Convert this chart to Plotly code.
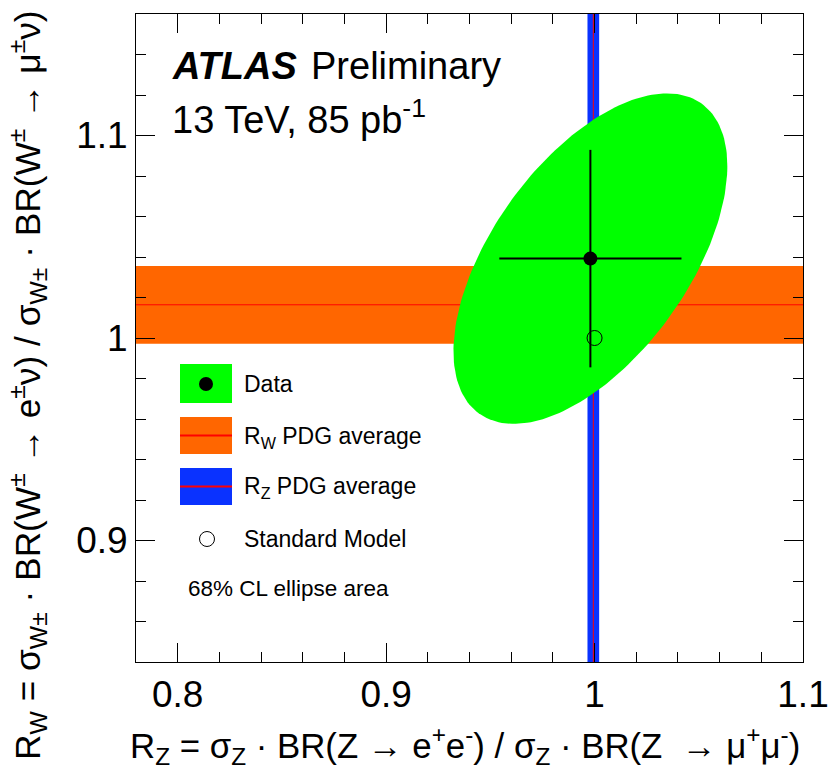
import numpy as np
import plotly.graph_objects as go

# ---------------- data ----------------
data_rz = [0.998]
data_rw = [1.0392]
data_rz_err = [0.0437]
data_rw_err = [0.0537]

sm_rz = [1.0]
sm_rw = [1.0]

rw_pdg_center = 1.0164
rw_pdg_err = 0.0192
rz_pdg_center = 0.9994
rz_pdg_err = 0.0028

# 68% CL ellipse: centre, half-extents along each axis, correlation
ell_center = [0.998, 1.0392]
ell_half_extent = [0.0657, 0.0816]
ell_rho = 0.56

x_range = [0.78, 1.10]
y_range = [0.84, 1.16]
x_tickvals = [0.8, 0.9, 1.0, 1.1]
x_ticktext = ["0.8", "0.9", "1", "1.1"]
y_tickvals = [0.9, 1.0, 1.1]
y_ticktext = ["0.9", "1", "1.1"]

# ---------------- layout constants ----------------
W, H = 832, 769
L, R, T, B = 136, 803, 14, 662
PW, PH = R - L, B - T
FONT = "Liberation Sans, Arial, Helvetica, sans-serif"

GREEN = "#00ff00"
ORANGE = "#ff6600"
BLUE = "#0a32ff"
RED = "#ff0000"


def px(xp):
    return (xp - L) / PW


def py(yp):
    return (B - yp) / PH


# ellipse outline from its parameters
t = np.linspace(0, 2 * np.pi, 200)
ex = ell_center[0] + ell_half_extent[0] * np.cos(t)
ey = ell_center[1] + ell_half_extent[1] * (ell_rho * np.cos(t) + np.sqrt(1 - ell_rho ** 2) * np.sin(t))

fig = go.Figure()

fig.add_trace(go.Scatter(x=ex, y=ey, mode="lines", fill="toself", fillcolor=GREEN,
                         line=dict(width=0, color=GREEN), hoverinfo="skip", showlegend=False))

fig.add_trace(go.Scatter(x=data_rz, y=data_rw, mode="markers",
                         marker=dict(size=14, color="black"),
                         error_x=dict(type="data", array=data_rz_err, color="black", thickness=2, width=0),
                         error_y=dict(type="data", array=data_rw_err, color="black", thickness=2, width=0),
                         showlegend=False))

fig.add_trace(go.Scatter(x=sm_rz, y=sm_rw, mode="markers",
                         marker=dict(size=15, color="rgba(0,0,0,0)", line=dict(color="black", width=1)),
                         showlegend=False))

shapes = []
# R_W band
shapes.append(dict(type="rect", xref="paper", yref="y", x0=0, x1=1,
                   y0=rw_pdg_center - rw_pdg_err, y1=rw_pdg_center + rw_pdg_err,
                   fillcolor=ORANGE, line=dict(width=0), layer="below"))
shapes.append(dict(type="line", xref="paper", yref="y", x0=0, x1=1,
                   y0=rw_pdg_center, y1=rw_pdg_center, line=dict(color=RED, width=1), layer="below"))
# R_Z band
shapes.append(dict(type="rect", xref="x", yref="paper", y0=0, y1=1,
                   x0=rz_pdg_center - rz_pdg_err, x1=rz_pdg_center + rz_pdg_err,
                   fillcolor=BLUE, line=dict(width=0), layer="below"))
shapes.append(dict(type="line", xref="x", yref="paper", y0=0, y1=1,
                   x0=rz_pdg_center, x1=rz_pdg_center, line=dict(color=RED, width=1), layer="below"))

# legend boxes (pixel placement)
bx0, bx1 = 180, 232
shapes.append(dict(type="rect", xref="paper", yref="paper", x0=px(bx0), x1=px(bx1), y0=py(403), y1=py(364),
                   fillcolor=GREEN, line=dict(width=0)))
shapes.append(dict(type="circle", xref="paper", yref="paper", x0=px(199), x1=px(213), y0=py(391), y1=py(377),
                   fillcolor="black", line=dict(width=0)))
shapes.append(dict(type="rect", xref="paper", yref="paper", x0=px(bx0), x1=px(bx1), y0=py(454), y1=py(417),
                   fillcolor=ORANGE, line=dict(width=0)))
shapes.append(dict(type="line", xref="paper", yref="paper", x0=px(bx0), x1=px(bx1), y0=py(435.5), y1=py(435.5),
                   line=dict(color=RED, width=2)))
shapes.append(dict(type="rect", xref="paper", yref="paper", x0=px(bx0), x1=px(bx1), y0=py(505), y1=py(468),
                   fillcolor=BLUE, line=dict(width=0)))
shapes.append(dict(type="line", xref="paper", yref="paper", x0=px(bx0), x1=px(bx1), y0=py(486.5), y1=py(486.5),
                   line=dict(color=RED, width=2)))
shapes.append(dict(type="circle", xref="paper", yref="paper", x0=px(199.5), x1=px(214.5), y0=py(546.5), y1=py(531.5),
                   fillcolor="rgba(0,0,0,0)", line=dict(color="black", width=1)))

annotations = []


def ann(text, x, y, size, xanchor="left", yanchor="middle", angle=0):
    annotations.append(dict(text=text, xref="paper", yref="paper", x=x, y=y, showarrow=False,
                            xanchor=xanchor, yanchor=yanchor, textangle=angle,
                            font=dict(family=FONT, size=size, color="black")))


ann("<b><i>ATLAS</i></b>", px(170), py(66), 38)
ann("Preliminary", px(309), py(66), 38)
ann("13 TeV, 85 pb<sup>-1</sup>", px(170), py(117), 38)

ann("Data", px(242), py(384), 23)
ann("R<sub>W</sub> PDG average", px(242), py(437), 23)
ann("R<sub>Z</sub> PDG average", px(242), py(488), 23)
ann("Standard Model", px(242), py(539), 23)
ann("68% CL ellipse area", px(186), py(588), 22.5)

ann("R<sub>Z</sub> = σ<sub>Z</sub> · BR(Z → e<sup>+</sup>e<sup>-</sup>) / σ<sub>Z</sub> · BR(Z  → μ<sup>+</sup>μ<sup>-</sup>)",
    px(802), py(745), 34.8, xanchor="right")
ann("R<sub>W</sub> = σ<sub>W±</sub> · BR(W<sup>±</sup> → e<sup>±</sup>ν) / σ<sub>W±</sub> · BR(W<sup>±</sup> → μ<sup>±</sup>ν)",
    px(27), py(8), 35.3, xanchor="center", yanchor="top", angle=-90)

axis_common = dict(showgrid=False, zeroline=False, showline=True, linecolor="black", linewidth=1,
                   mirror="allticks", ticks="inside", ticklen=19, tickwidth=1, tickcolor="black",
                   automargin=False,
                   tickfont=dict(family=FONT, size=37, color="black"))

fig.update_layout(
    width=W, height=H,
    autosize=False,
    margin=dict(l=L, r=W - R, t=T, b=H - B, autoexpand=False),
    paper_bgcolor="white", plot_bgcolor="white",
    xaxis=dict(range=x_range, tickvals=x_tickvals, ticktext=x_ticktext,
               minor=dict(ticks="inside", ticklen=10, dtick=0.02, tick0=0.78, tickcolor="black", tickwidth=1),
               **axis_common),
    yaxis=dict(range=y_range, tickvals=y_tickvals, ticktext=y_ticktext,
               minor=dict(ticks="inside", ticklen=10, dtick=0.02, tick0=0.84, tickcolor="black", tickwidth=1),
               **axis_common),
    shapes=shapes,
    annotations=annotations,
    showlegend=False,
)

fig.write_html("out.html")
